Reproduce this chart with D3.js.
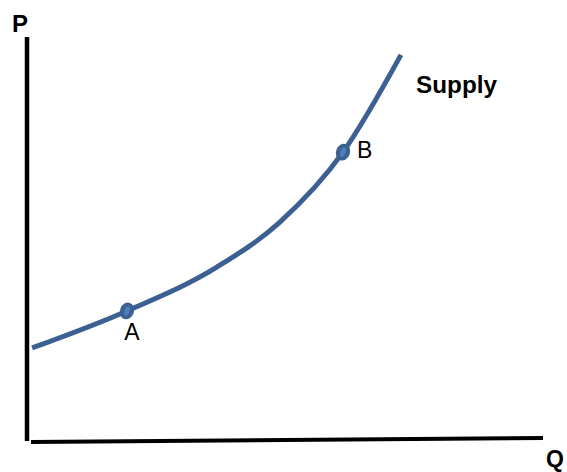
<!DOCTYPE html>
<html>
<head>
<meta charset="utf-8">
<script src="https://cdn.jsdelivr.net/npm/d3@7"></script>
<style>
  body { margin: 0; background: #fff; }
  svg { display: block; }
</style>
</head>
<body>
<div id="viz"></div>
<script>
const width = 567;
const height = 472;
const margin = {top: 38, right: 27, bottom: 32, left: 27};

const curveColor = '#3C6091';
const dotInner = '#4F7FBA';

// Supply curve (Q, P on a 0-100 scale)
const supplyQ = [1.0, 19.5, 37.0, 49.3, 61.6, 72.9];
const supplyP = [22.9, 32.1, 43.0, 54.2, 71.6, 95.8];

// Labelled points on the curve
const pointNames = ['A', 'B'];
const pointQ = [19.5, 61.6];
const pointP = [32.1, 71.6];

const supplyData = supplyQ.map((q, i) => ({q: q, p: supplyP[i]}));
const pointData = pointNames.map((n, i) => ({name: n, q: pointQ[i], p: pointP[i]}));

const svg = d3.select('#viz')
  .append('svg')
    .attr('width', width)
    .attr('height', height);

const xScale = d3.scaleLinear()
  .domain([0, 100])
  .range([margin.left, width - margin.right]);
const yScale = d3.scaleLinear()
  .domain([0, 100])
  .range([height - margin.bottom, margin.top]);

// Axes: plain thick lines, no ticks
svg.append('line')
    .attr('x1', xScale(0))
    .attr('x2', xScale(0))
    .attr('y1', yScale(100) - 1)
    .attr('y2', yScale(0) + 1)
    .attr('stroke', 'black')
    .attr('stroke-width', 4.5);
svg.append('line')
    .attr('x1', xScale(0) + 4)
    .attr('x2', xScale(100) + 3)
    .attr('y1', yScale(0) + 2)
    .attr('y2', yScale(0) - 2)
    .attr('stroke', 'black')
    .attr('stroke-width', 4);

// Axis titles
svg.append('text')
    .attr('x', 12)
    .attr('y', 32)
    .attr('font-family', 'Liberation Sans, Arial, sans-serif')
    .attr('font-weight', 'bold')
    .attr('font-size', 24)
    .text('P');
svg.append('text')
    .attr('x', 546)
    .attr('y', 467)
    .attr('font-family', 'Liberation Sans, Arial, sans-serif')
    .attr('font-weight', 'bold')
    .attr('font-size', 23)
    .text('Q');

// Supply curve
const line = d3.line()
  .x(d => xScale(d.q))
  .y(d => yScale(d.p))
  .curve(d3.curveMonotoneX);

svg.append('path')
    .datum(supplyData)
    .attr('d', line)
    .attr('fill', 'none')
    .attr('stroke', curveColor)
    .attr('stroke-width', 5);

svg.append('text')
    .attr('x', 416)
    .attr('y', 93)
    .attr('font-family', 'Liberation Sans, Arial, sans-serif')
    .attr('font-weight', 'bold')
    .attr('font-size', 23)
    .attr('textLength', 81)
    .attr('lengthAdjust', 'spacingAndGlyphs')
    .text('Supply');

// Points A and B
const dots = svg.append('g')
    .attr('class', 'dots')
  .selectAll('g')
  .data(pointData)
  .join('g')
    .attr('transform', d => `translate(${xScale(d.q)}, ${yScale(d.p)}) rotate(20)`);
dots.append('ellipse')
    .attr('rx', 7)
    .attr('ry', 8.5)
    .attr('fill', curveColor);
dots.append('ellipse')
    .attr('rx', 2.5)
    .attr('ry', 5)
    .attr('fill', dotInner);

svg.selectAll('.point-label')
  .data(pointData)
  .join('text')
    .attr('class', 'point-label')
    .attr('x', d => d.name === 'A' ? xScale(d.q) + 5 : xScale(d.q) + 14)
    .attr('y', d => d.name === 'A' ? yScale(d.p) + 29 : yScale(d.p) + 6)
    .attr('text-anchor', d => d.name === 'A' ? 'middle' : 'start')
    .attr('font-family', 'Liberation Sans, Arial, sans-serif')
    .attr('font-size', 23)
    .text(d => d.name);
</script>
</body>
</html>
